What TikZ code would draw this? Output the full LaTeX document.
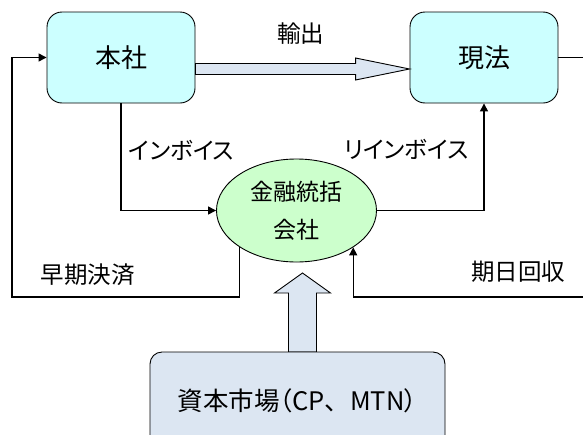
\documentclass[tikz,border=0pt]{standalone}
\usepackage{fontspec}
\setmainfont{Noto Sans CJK JP}[RawFeature=+palt]
\usetikzlibrary{arrows.meta,shapes.geometric,calc}
\definecolor{boxcyan}{HTML}{CCFFFF}
\definecolor{elgreen}{HTML}{CCFFCC}
\definecolor{capblue}{HTML}{DCE6F2}
\begin{document}
\begin{tikzpicture}[x=1pt,y=-1pt,
  entity/.style={draw=black,line width=0.9pt,fill=boxcyan,rounded corners=15pt,
    minimum width=148pt,minimum height=91pt,inner sep=0pt,
    font=\fontsize{26}{30}\selectfont},
  hub/.style={ellipse,draw=black,line width=0.9pt,fill=elgreen,
    minimum width=160pt,minimum height=103pt,inner sep=0pt,align=center,
    font=\fontsize{23}{38}\selectfont},
  market/.style={draw=black,line width=0.9pt,fill=capblue,rounded corners=12pt,
    minimum width=295pt,minimum height=98pt,inner sep=0pt,
    font=\fontsize{25.5}{28}\selectfont},
  fatarrow/.style={draw=black,line width=0.9pt,fill=capblue,line join=miter},
  conn/.style={draw=black,line width=1.3pt,-{Triangle[length=8pt,width=8pt]}},
  lbl/.style={inner sep=0pt,font=\fontsize{23.5}{28}\selectfont}]
\useasboundingbox (0,0) rectangle (583,434);
\clip (0,0) rectangle (583,434);

% main nodes
\node[entity] (honsha) at (121,57.5) {本社};
\node[entity] (genpo) at (484,57.5) {現法};
\node[hub] (kin) at (296.5,210.5) {金融統括\\会社};

% capital market box and fat up arrow
\coordinate (upS) at (302.5,352);
\coordinate (upE) at (302.5,273);
\draw[fatarrow] ([xshift=-14pt]upS) -- ([xshift=-14pt,yshift=-20pt]upE)
  -- ([xshift=-28pt,yshift=-20pt]upE) -- (upE)
  -- ([xshift=28pt,yshift=-20pt]upE) -- ([xshift=14pt,yshift=-20pt]upE)
  -- ([xshift=14pt]upS) -- cycle;
\node[market] (cap) at (297.5,401) {資本市場（CP{\addfontfeature{RawFeature=-palt}、}MTN）};

% export fat arrow
\coordinate (exS) at ([yshift=-11.5pt]honsha.east);
\coordinate (exE) at ([yshift=-11.5pt]genpo.west);
\draw[fatarrow] ([yshift=5.5pt]exS) -- ([xshift=-54pt,yshift=5.5pt]exE)
  -- ([xshift=-54pt,yshift=11pt]exE) -- (exE)
  -- ([xshift=-54pt,yshift=-11pt]exE) -- ([xshift=-54pt,yshift=-5.5pt]exE)
  -- ([yshift=-5.5pt]exS) -- cycle;

% connectors
\coordinate (lb) at (12,297);
\coordinate (rb) at (592,297);
\draw[conn] (honsha.south) |- (kin.west);
\draw[conn] (kin.east) -| (genpo.south);
\draw[conn] (kin.213.8) |- (lb) |- (honsha.west);
\draw[conn] (genpo.east) -| (rb) -| (kin.327.1);

% labels
\node[lbl] (l1) at (300.5,34) {輸出};
\node[lbl] (l2) at (181.5,150) {インボイス};
\node[lbl] (l3) at (406,149) {リインボイス};
\node[lbl] (l4) at (87.5,274.5) {早期決済};
\node[lbl] (l5) at (518,272) {期日回収};
\end{tikzpicture}
\end{document}
